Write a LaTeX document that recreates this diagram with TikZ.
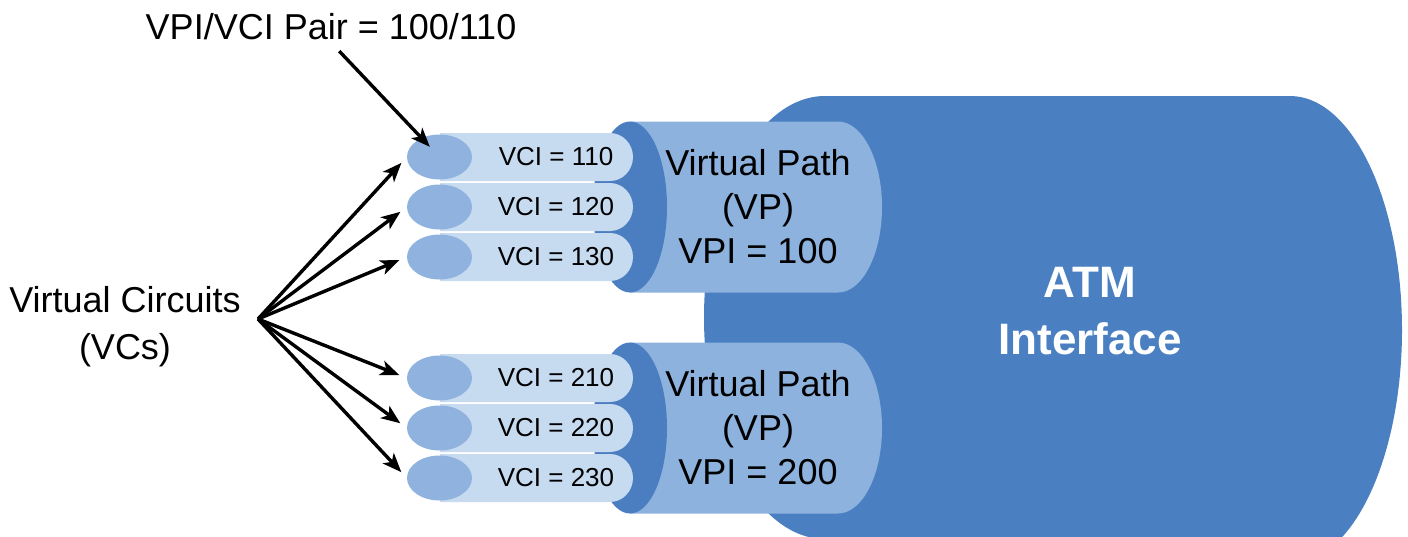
\documentclass[tikz,border=0pt]{standalone}
\usepackage{fontspec}
\setmainfont{Liberation Sans}
\usetikzlibrary{shapes.geometric,arrows.meta,positioning}

\definecolor{atmblue}{HTML}{4A80C1}
\definecolor{faceblue}{HTML}{4B7EC0}
\definecolor{pathblue}{HTML}{8DB2DE}
\definecolor{tubeblue}{HTML}{C6DAF0}
\definecolor{endblue}{HTML}{8FB3DE}

\begin{document}
\begin{tikzpicture}[
    x=1pt, y=-1pt,
    label/.style={inner sep=2pt, align=center, font=\fontsize{36}{47}\selectfont},
    vci/.style={inner sep=2pt, font=\fontsize{26}{30}\selectfont},
    vpath/.style={inner sep=2pt, align=center, font=\fontsize{36}{44}\selectfont},
    vcend/.style={ellipse, fill=endblue, minimum width=65pt, minimum height=45pt, inner sep=0pt},
    arrow/.style={-{Stealth[length=19pt,width=15pt,inset=5pt]}, line width=3.4pt}
]
\useasboundingbox (0,0) rectangle (1408,536);

% ATM interface body
\fill[atmblue] (1290,96) arc[start angle=-90, end angle=64, x radius=112, y radius=234]
    -- (825,539) arc[start angle=90, end angle=270, x radius=121, y radius=221.5] -- cycle;
\node[font=\bfseries\fontsize{44}{57}\selectfont, text=white, align=center] (atm) at (1090,311) {ATM\\Interface};

% Virtual paths with their circuits
\foreach \p/\c in {1/207, 2/428} {
    \fill[pathblue] (630,\c-85.5) -- (838,\c-85.5) arc[start angle=-90, end angle=90, x radius=44, y radius=85.5]
        -- (630,\c+85.5) -- cycle;
    \fill[faceblue] (630,\c) ellipse [x radius=37, y radius=85.5];
    \node[vpath] (vp\p) at (758,\c) {Virtual Path\\(VP)\\VPI = \p00};
    \foreach \v/\dy in {1/-50, 2/0, 3/50} {
        \fill[tubeblue] (440,\c+\dy-24) -- (610,\c+\dy-24) arc[start angle=-90, end angle=90, x radius=23, y radius=24]
            -- (440,\c+\dy+24) -- cycle;
        \node[vcend] (end\p\v) at (439.5,\c+\dy) {};
        \node[vci] (vci\p\v) at (556,\c+\dy) {VCI = \p\v0};
    }
}

% Labels
\node[label] (pair) at (331,27) {VPI/VCI Pair = 100/110};
\node[label] (vcs) at (125,327) {Virtual Circuits\\(VCs)};
\coordinate (fan) at (258,319);

% Arrows
\draw[arrow, shorten <=12pt, shorten >=14pt] (pair.south) -- (end11.center);
\foreach \p in {1,2}
    \foreach \v in {1,2,3}
        \draw[arrow, shorten >=8pt] (fan) -- (end\p\v.west);

\end{tikzpicture}
\end{document}
